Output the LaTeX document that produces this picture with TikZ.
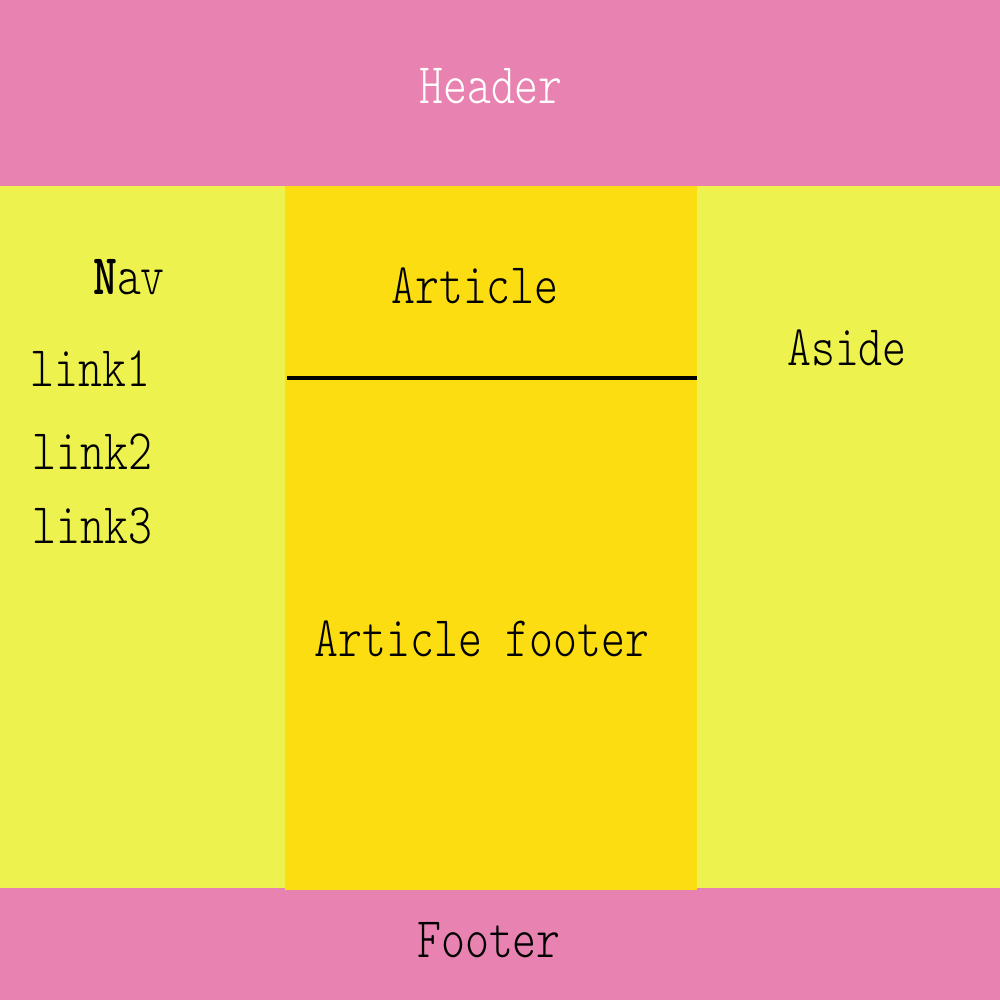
\documentclass[tikz,border=0pt]{standalone}
\usepackage{graphicx}
\usepackage{fontspec}
\setmonofont{Latin Modern Mono Light}
\definecolor{pinkbar}{HTML}{E882B0}
\definecolor{sideyel}{HTML}{EDF24E}
\definecolor{midyel}{HTML}{FCDD11}
\tikzset{
  lbl/.style={inner sep=0pt, font=\fontsize{12.95}{15}\selectfont\ttfamily, text=black},
}
\newcommand{\tall}[1]{\scalebox{1}[1.26]{#1}}
\begin{document}
\begin{tikzpicture}[x=0.01cm,y=-0.01cm]
\useasboundingbox (0,0) rectangle (1000,1000);
% regions
\fill[pinkbar] (0,0) rectangle (1000,186);
\fill[sideyel] (0,186) rectangle (285,888);
\fill[sideyel] (697,186) rectangle (1000,888);
\fill[pinkbar] (0,888) rectangle (1000,1000);
\fill[midyel] (285,186) rectangle (697,890);
\coordinate (ls) at (287,378);
\coordinate (le) at (697,378);
\draw[line width=0.035cm] (ls) -- (le);
% texts
\node[lbl, text=white, anchor=base] (header) at (491,103) {\tall{Header}};
\node[lbl, anchor=base] (nav) at (129,294) {\tall{\textbf{N}av}};
\node[lbl, anchor=base west] (link1) at (30,386) {\tall{link1}};
\node[lbl, anchor=base west] (link2) at (32,469) {\tall{link2}};
\node[lbl, anchor=base west] (link3) at (32,543) {\tall{link3}};
\node[lbl, anchor=base] (article) at (475,303) {\tall{Article}};
\node[lbl, anchor=base] (aside) at (847,365) {\tall{Aside}};
\node[lbl, anchor=base] (artfoot) at (482,656) {\tall{Article footer}};
\node[lbl, anchor=base] (footer) at (489,957) {\tall{Footer}};
\end{tikzpicture}
\end{document}
